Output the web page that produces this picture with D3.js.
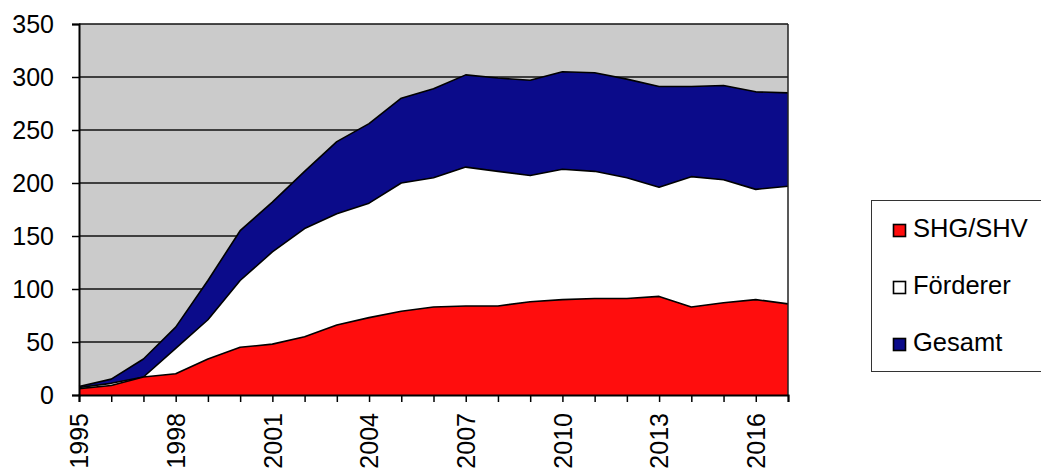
<!DOCTYPE html>
<html><head><meta charset="utf-8">
<script src="https://cdn.jsdelivr.net/npm/d3@7"></script>
<style>body{margin:0;background:#fff}svg{display:block}</style>
</head><body>
<svg id="c" width="1041" height="470"></svg>
<script>
const years = [1995,1996,1997,1998,1999,2000,2001,2002,2003,2004,2005,2006,2007,2008,2009,2010,2011,2012,2013,2014,2015,2016,2017];
const shg = [6,9,17,20,34,45,48,55,66,73,79,83,84,84,88,90,91,91,93,83,87,90,86];
const foerderer = [7,11,17,44,71,108,135,157,171,181,200,205,215,211,207,213,211,205,196,206,203,194,197];
const gesamt = [8,15,34,64,108,155,182,211,239,256,280,289,302,299,297,305,304,298,291,291,292,286,285];
const yTicks = [0,50,100,150,200,250,300,350];
const xLabelYears = [1995,1998,2001,2004,2007,2010,2013,2016];
const seriesNames = ["SHG/SHV","Förderer","Gesamt"];
const colors = {"SHG/SHV":"#ff0d0d","Förderer":"#ffffff","Gesamt":"#0b0b8a"};

const svg = d3.select("#c");
const L=79, R=788, T=24, B=395;
const x = d3.scalePoint().domain(years).range([L,R]);
const y = d3.scaleLinear().domain([0,350]).range([B,T]);
const font = "'Liberation Sans', Arial, sans-serif";

svg.append("rect").attr("x",L).attr("y",T).attr("width",R-L).attr("height",B-T).attr("fill","#cbcbcb");

svg.append("g").selectAll("line").data(yTicks.filter(d=>d>0)).join("line")
  .attr("x1",L).attr("x2",R).attr("y1",d=>y(d)).attr("y2",d=>y(d))
  .attr("stroke","#111").attr("stroke-width",1.5);

const area = d3.area().x((d,i)=>x(years[i])).y0(y(0)).y1(d=>y(d));
const line = d3.line().x((d,i)=>x(years[i])).y(d=>y(d));
[[gesamt,"Gesamt"],[foerderer,"Förderer"],[shg,"SHG/SHV"]].forEach(([vals,name])=>{
  svg.append("path").datum(vals).attr("d",area).attr("fill",colors[name]);
  svg.append("path").datum(vals).attr("d",line).attr("fill","none").attr("stroke","#000").attr("stroke-width",1.6).attr("stroke-linejoin","round");
});

svg.append("line").attr("x1",R).attr("x2",R).attr("y1",T).attr("y2",B).attr("stroke","#222").attr("stroke-width",1.5);

const yAxis = d3.axisLeft(y).tickValues(yTicks).tickSize(7).tickPadding(18);
const gy = svg.append("g").attr("transform",`translate(${L},0)`).call(yAxis);
gy.select(".domain").attr("stroke","#000").attr("stroke-width",2);
gy.selectAll(".tick line").attr("stroke","#000").attr("stroke-width",1.5);
gy.selectAll("text").attr("font-family",font).attr("font-size",25).attr("fill","#000");

const xAxis = d3.axisBottom(x).tickSize(7).tickFormat(d=>xLabelYears.includes(d)?d:"");
const gx = svg.append("g").attr("transform",`translate(0,${B})`).call(xAxis);
gx.select(".domain").attr("stroke","#000").attr("stroke-width",2);
gx.selectAll(".tick line").attr("stroke","#000").attr("stroke-width",1.5);
gx.selectAll("text").attr("font-family",font).attr("font-size",25).attr("fill","#000")
  .attr("transform","rotate(-90)").attr("text-anchor","end").attr("dy","0.35em").attr("x",-18).attr("y",0);

const lg = svg.append("g");
lg.append("rect").attr("x",871.5).attr("y",200.5).attr("width",180).attr("height",171).attr("fill","#fff").attr("stroke","#333").attr("stroke-width",1);
const ly = d3.scalePoint().domain(seriesNames).range([230,344]);
seriesNames.forEach(n=>{
  lg.append("rect").attr("x",893.5).attr("y",ly(n)-5.5).attr("width",12).attr("height",12).attr("fill",colors[n]).attr("stroke","#000").attr("stroke-width",1.6);
  lg.append("text").attr("x",913).attr("y",ly(n)+7).attr("font-family",font).attr("font-size",25.5).attr("fill","#000").text(n);
});
</script>
</body></html>
